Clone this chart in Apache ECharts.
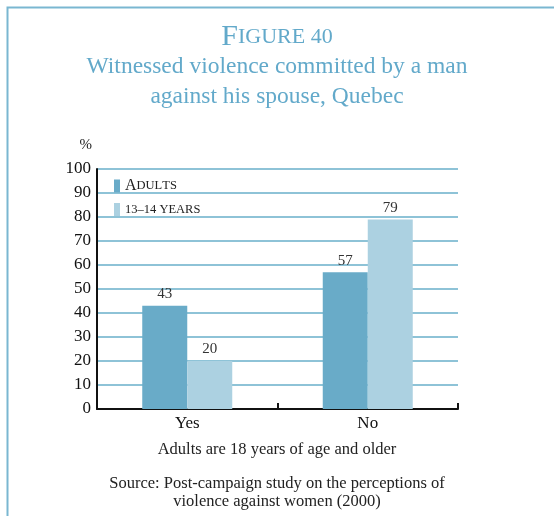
<!DOCTYPE html>
<html>
<head>
<meta charset="utf-8">
<script src="https://cdn.jsdelivr.net/npm/echarts@6/dist/echarts.min.js"></script>
<style>
  html, body { margin: 0; padding: 0; background: #fff; }
  #chart { width: 554px; height: 516px; }
</style>
</head>
<body>
<div id="chart"></div>
<script>
// Witnessed violence by a man against his spouse, Quebec (%)
const categories = ['Yes', 'No'];
const adults = [43, 57];
const youth = [20, 79];
const seriesNames = ['Adults', '13–14 years'];
const yTicks = { min: 0, max: 100, interval: 10 };

const SERIF = '"Liberation Serif", "DejaVu Serif", serif';
const TEAL = '#62a9ca';
const DARK_BAR = '#69abc8';
const LIGHT_BAR = '#acd1e1';
const GRID_LINE = '#8ec3d7';

// small-caps rendering for the legend entries
const legendRich = {
  cap: { fontFamily: SERIF, fontSize: 16, color: '#222' },
  sc: { fontFamily: SERIF, fontSize: 12.5, color: '#222' }
};
function smallCaps(text) {
  const parts = [];
  for (const ch of text) {
    if (/[A-Z]/.test(ch)) parts.push('{cap|' + ch + '}');
    else parts.push('{sc|' + ch.toUpperCase() + '}');
  }
  return parts.join('');
}

function plainTitle(text, top, size) {
  return {
    text: text,
    left: 'center',
    top: top,
    textStyle: { fontFamily: SERIF, fontSize: size, fontWeight: 'normal', color: '#222' }
  };
}

function subTitle(text, top) {
  return {
    text: text,
    left: 'center',
    top: top,
    textStyle: { fontFamily: SERIF, fontSize: 23.5, fontWeight: 'normal', color: TEAL }
  };
}

const chart = echarts.init(document.getElementById('chart'), null, { renderer: 'canvas' });

chart.setOption({
  backgroundColor: '#fff',
  animation: false,
  title: [
    {
      text: '{cap|F}{sc|IGURE 40}',
      left: 'center',
      top: 17,
      textStyle: {
        fontWeight: 'normal',
        rich: {
          cap: { fontFamily: SERIF, fontSize: 30, fontWeight: 'normal', color: TEAL },
          sc: { fontFamily: SERIF, fontSize: 22, fontWeight: 'normal', color: TEAL }
        }
      }
    },
    subTitle('Witnessed violence committed by a man', 50),
    subTitle('against his spouse, Quebec', 80),
    plainTitle('Adults are 18 years of age and older', 436, 16.5),
    plainTitle('Source: Post-campaign study on the perceptions of', 470, 16.5),
    plainTitle('violence against women (2000)', 488, 16.5)
  ],
  graphic: [
    {
      type: 'polyline',
      shape: { points: [[7.5, 516], [7.5, 7.5], [554, 7.5]] },
      style: { stroke: '#7ab7d1', lineWidth: 2, fill: null },
      silent: true
    }
  ],
  legend: {
    orient: 'vertical',
    left: 109,
    top: 173,
    icon: 'rect',
    itemWidth: 6,
    itemHeight: 13,
    itemGap: 9,
    data: seriesNames,
    formatter: name => smallCaps(name),
    textStyle: { rich: legendRich }
  },
  grid: { left: 97, right: 96, top: 169, bottom: 107 },
  xAxis: {
    type: 'category',
    data: categories,
    axisLine: { lineStyle: { color: '#111', width: 2 } },
    axisTick: { show: true, inside: true, length: 6, lineStyle: { color: '#111', width: 2 } },
    axisLabel: { fontFamily: SERIF, fontSize: 17, color: '#111', margin: 6 }
  },
  yAxis: {
    type: 'value',
    min: yTicks.min,
    max: yTicks.max,
    interval: yTicks.interval,
    name: '%',
    nameLocation: 'end',
    nameGap: 24,
    nameTextStyle: { fontFamily: SERIF, fontSize: 15, color: '#222', align: 'right', verticalAlign: 'middle', padding: [0, 5, 0, 0] },
    axisLine: { show: true, lineStyle: { color: '#111', width: 2 } },
    axisTick: { show: false },
    axisLabel: { fontFamily: SERIF, fontSize: 17, color: '#111', margin: 6 },
    splitLine: { lineStyle: { color: GRID_LINE, width: 2 } }
  },
  series: [
    {
      name: seriesNames[0],
      type: 'bar',
      data: adults,
      barWidth: 45,
      barGap: '0%',
      itemStyle: { color: DARK_BAR },
      label: { show: true, position: 'top', distance: 4, fontFamily: SERIF, fontSize: 15, color: '#333' }
    },
    {
      name: seriesNames[1],
      type: 'bar',
      data: youth,
      barWidth: 45,
      barGap: '0%',
      itemStyle: { color: LIGHT_BAR },
      label: { show: true, position: 'top', distance: 4, fontFamily: SERIF, fontSize: 15, color: '#333' }
    }
  ]
});
</script>
</body>
</html>
